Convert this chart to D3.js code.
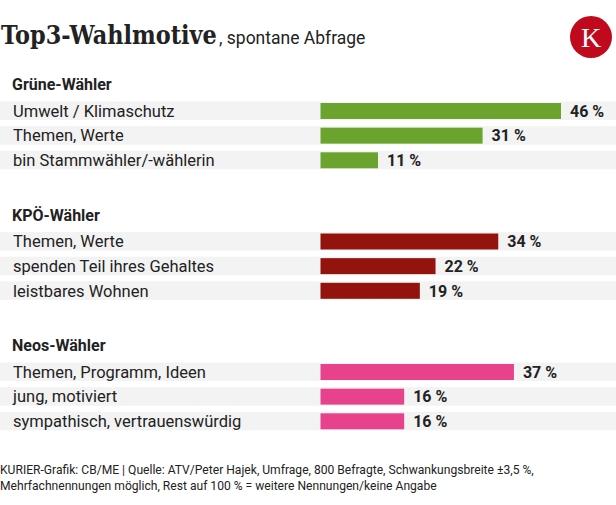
<!DOCTYPE html>
<html><head><meta charset="utf-8">
<script src="https://cdn.jsdelivr.net/npm/d3@7"></script>
<style>
html,body{margin:0;padding:0;background:#fff;}
svg{display:block;font-family:Roboto,"Noto Sans",sans-serif;}
</style></head>
<body>
<svg id="c" width="616" height="505"></svg>
<script>
const groups = ["Grüne-Wähler", "KPÖ-Wähler", "Neos-Wähler"];
const groupColors = ["#6aa42f", "#92140c", "#e8428d"];
const labelsGruene = ["Umwelt / Klimaschutz", "Themen, Werte", "bin Stammwähler/-wählerin"];
const valuesGruene = [46, 31, 11];
const labelsKPOe = ["Themen, Werte", "spenden Teil ihres Gehaltes", "leistbares Wohnen"];
const valuesKPOe = [34, 22, 19];
const labelsNeos = ["Themen, Programm, Ideen", "jung, motiviert", "sympathisch, vertrauenswürdig"];
const valuesNeos = [37, 16, 16];
const titleMain = "Top3-Wahlmotive";
const titleSub = ", spontane Abfrage";
const footer = ["KURIER-Grafik: CB/ME | Quelle: ATV/Peter Hajek, Umfrage, 800 Befragte, Schwankungsbreite ±3,5 %,",
  "Mehrfachnennungen möglich, Rest auf 100 % = weitere Nennungen/keine Angabe"];

const data = [
  {name: groups[0], color: groupColors[0], labels: labelsGruene, values: valuesGruene},
  {name: groups[1], color: groupColors[1], labels: labelsKPOe, values: valuesKPOe},
  {name: groups[2], color: groupColors[2], labels: labelsNeos, values: valuesNeos}
];

const svg = d3.select("#c");
const x = d3.scaleLinear().domain([0, 46]).range([320.5, 561]);
const gy = d3.scaleLinear().domain([0, 1]).range([101.5, 232]);
const ry = d3.scaleBand().domain([0,1,2]).range([0, 67.8]).paddingInner(0.25).paddingOuter(0);

// title (horizontally condensed to the reference width)
const tg = svg.append("g");
const tt = tg.append("text").attr("x", 0).attr("y", 0).text(titleMain)
  .style("font-family", "'Roboto Slab','DejaVu Serif',serif").attr("font-weight", 700)
  .attr("font-size", 26).attr("fill", "#222");
const tw = tt.node().getComputedTextLength();
tg.attr("transform", `translate(1,43.5) scale(${216 / tw},1)`);
svg.append("text").attr("x", 219).attr("y", 43.5).text(titleSub)
  .attr("font-size", 17.5).attr("fill", "#222");

// logo
svg.append("circle").attr("cx", 591).attr("cy", 37).attr("r", 21).attr("fill", "#c0091c");
svg.append("text").attr("x", 591).attr("y", 46.5).attr("text-anchor", "middle")
  .style("font-family", "'Liberation Serif','DejaVu Serif',serif").attr("font-size", 28)
  .attr("fill", "#fff").text("K");

data.forEach((g, gi) => {
  const top = gy(gi);
  svg.append("text").attr("x", 12).attr("y", top - 11.5)
    .attr("font-size", 16).attr("font-weight", 700).attr("fill", "#222").text(g.name);
  g.values.forEach((v, i) => {
    const y0 = top + ry(i);
    svg.append("rect").attr("x", 0).attr("y", y0).attr("width", 616).attr("height", ry.bandwidth())
      .attr("fill", "#f3f3f3");
    svg.append("rect").attr("x", x(0)).attr("y", y0 + 1.5).attr("width", x(v) - x(0))
      .attr("height", ry.bandwidth() - 2.5).attr("fill", g.color);
    svg.append("text").attr("x", 13).attr("y", y0 + ry.bandwidth()/2 + 6)
      .attr("font-size", 16.5).attr("fill", "#222").text(g.labels[i]);
    svg.append("text").attr("x", x(v) + 9).attr("y", y0 + ry.bandwidth()/2 + 6)
      .attr("font-size", 16).attr("font-weight", 700).attr("fill", "#222").text(v + " %");
  });
});

footer.forEach((f, i) => {
  svg.append("text").attr("x", 0).attr("y", 474 + i*16).attr("font-size", 12.1)
    .attr("fill", "#222").text(f);
});
</script>
</body></html>
